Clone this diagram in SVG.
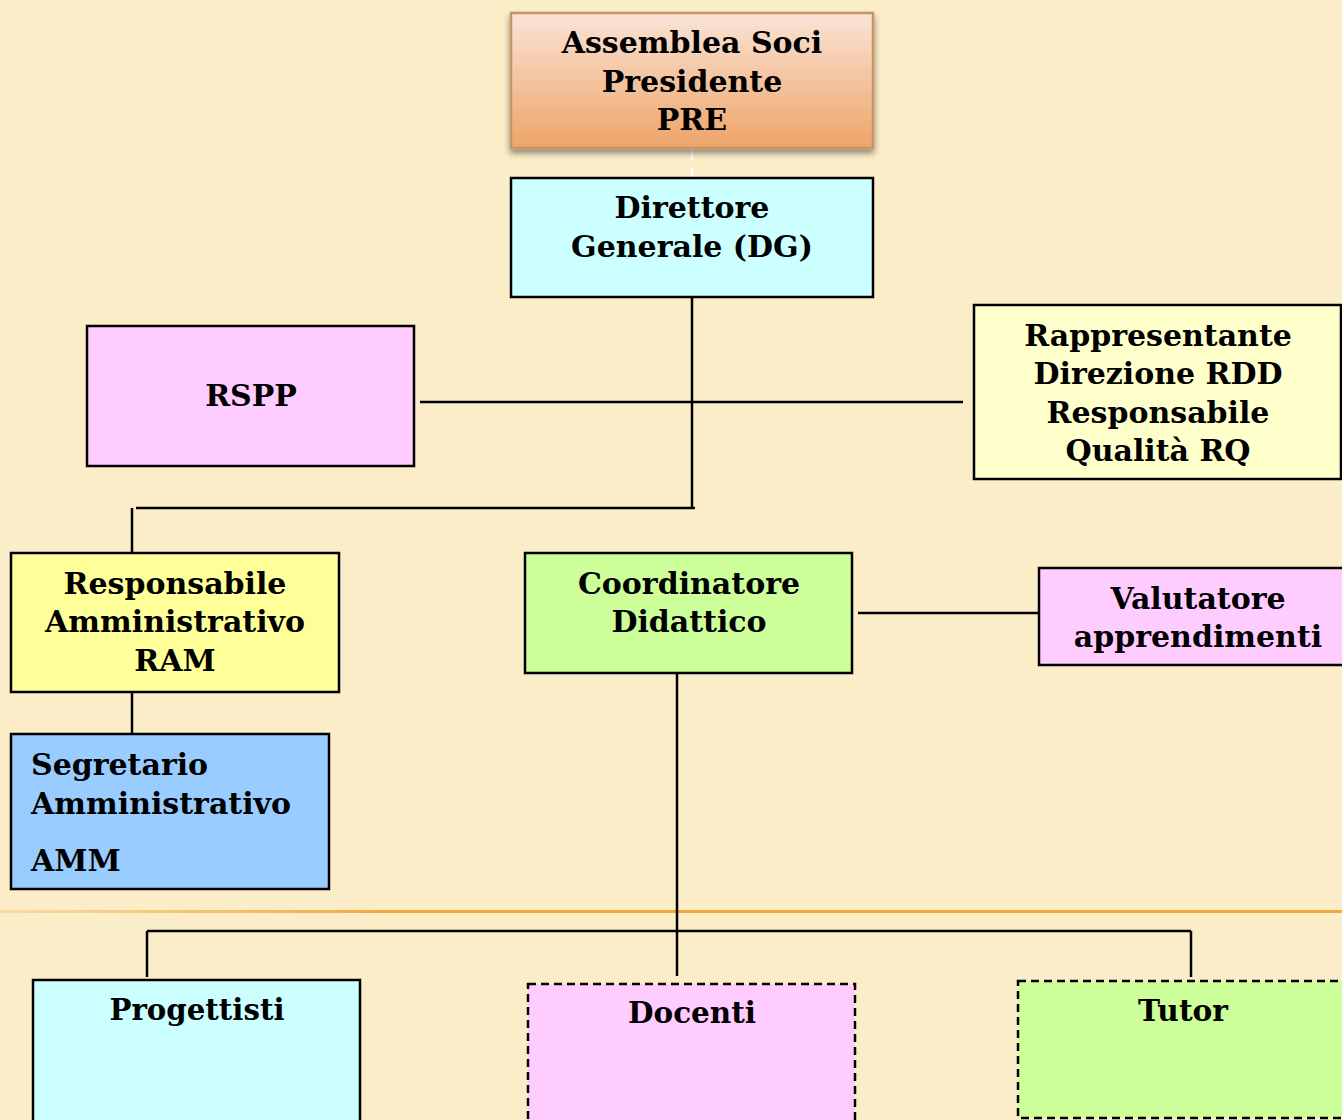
<svg xmlns="http://www.w3.org/2000/svg" width="1342" height="1120" viewBox="0 0 1342 1120">
<defs>
<linearGradient id="topg" x1="0" y1="0" x2="0" y2="1">
<stop offset="0" stop-color="#FAE4D6"/>
<stop offset="1" stop-color="#EDA468"/>
</linearGradient>
<linearGradient id="og" x1="0" y1="0" x2="1" y2="0">
<stop offset="0" stop-color="#F0B04A" stop-opacity="0.3"/>
<stop offset="0.3" stop-color="#F0A838"/>
<stop offset="1" stop-color="#F0A838"/>
</linearGradient>
<filter id="sh" x="-10%" y="-10%" width="120%" height="130%">
<feGaussianBlur in="SourceAlpha" stdDeviation="3"/>
<feOffset dx="0" dy="4" result="b"/>
<feComponentTransfer><feFuncA type="linear" slope="0.45"/></feComponentTransfer>
<feMerge><feMergeNode/><feMergeNode in="SourceGraphic"/></feMerge>
</filter>
</defs>
<style>
.t{font-family:"DejaVu Serif","Liberation Serif",serif;font-weight:bold;font-size:30px;fill:#000;text-anchor:middle}
.l{text-anchor:start}
.b{stroke:#000;stroke-width:2.5}
.d{stroke:#000;stroke-width:2.5;stroke-dasharray:8 5}
.c{stroke:#000;stroke-width:2.5;fill:none}
</style>
<rect width="1342" height="1120" fill="#FCEDC9"/>
<rect x="0" y="910" width="1342" height="3" fill="url(#og)"/>
<g id="connectors">
<line x1="692" y1="150" x2="692" y2="178" stroke="#FFFFFF" stroke-width="2.5" stroke-dasharray="10 8"/>
<path class="c" d="M692 297V508"/>
<path class="c" d="M420 402H963"/>
<path class="c" d="M136 508H695M132 508V553"/>
<path class="c" d="M132 692V734"/>
<path class="c" d="M858 613H1039"/>
<path class="c" d="M677 673V976"/>
<path class="c" d="M147 931H1191" stroke-width="3"/>
<path class="c" d="M147 931V977M1191 931V977"/>
</g>
<g id="pre">
<rect x="511" y="13" width="362" height="135" fill="url(#topg)" stroke="#C8956A" stroke-width="2.5" filter="url(#sh)"/>
<text class="t" x="692" y="53">Assemblea Soci</text>
<text class="t" x="692" y="92">Presidente</text>
<text class="t" x="692" y="130">PRE</text>
</g>
<g id="dg">
<rect x="511" y="178" width="362" height="119" fill="#CCFFFF" class="b"/>
<text class="t" x="692" y="218">Direttore</text>
<text class="t" x="692" y="257">Generale (DG)</text>
</g>
<g id="rspp">
<rect x="87" y="326" width="327" height="140" fill="#FFCCFF" class="b"/>
<text class="t" x="251" y="406">RSPP</text>
</g>
<g id="rdd">
<rect x="974" y="305" width="367" height="174" fill="#FFFFCC" class="b"/>
<text class="t" x="1158" y="346">Rappresentante</text>
<text class="t" x="1158" y="384">Direzione RDD</text>
<text class="t" x="1158" y="423">Responsabile</text>
<text class="t" x="1158" y="461">Qualità RQ</text>
</g>
<g id="ram">
<rect x="11" y="553" width="328" height="139" fill="#FFFF99" class="b"/>
<text class="t" x="175" y="594">Responsabile</text>
<text class="t" x="175" y="632">Amministrativo</text>
<text class="t" x="175" y="671">RAM</text>
</g>
<g id="coord">
<rect x="525" y="553" width="327" height="120" fill="#CCFF99" class="b"/>
<text class="t" x="689" y="594">Coordinatore</text>
<text class="t" x="689" y="632">Didattico</text>
</g>
<g id="valutatore">
<rect x="1039" y="568" width="310" height="97" fill="#FFCCFF" class="b"/>
<text class="t" x="1198" y="609">Valutatore</text>
<text class="t" x="1198" y="647">apprendimenti</text>
</g>
<g id="amm">
<rect x="11" y="734" width="318" height="155" fill="#99CCFF" class="b"/>
<text class="t l" x="31" y="775">Segretario</text>
<text class="t l" x="31" y="814">Amministrativo</text>
<text class="t l" x="31" y="871">AMM</text>
</g>
<g id="progettisti">
<rect x="33" y="980" width="327" height="150" fill="#CCFFFF" class="b"/>
<text class="t" x="197" y="1020" textLength="175" lengthAdjust="spacingAndGlyphs">Progettisti</text>
</g>
<g id="docenti">
<rect x="528" y="984" width="327" height="150" fill="#FFCCFF" class="d"/>
<text class="t" x="692" y="1023" textLength="128" lengthAdjust="spacingAndGlyphs">Docenti</text>
</g>
<g id="tutor">
<rect x="1018" y="981" width="340" height="137" fill="#CCFF99" class="d"/>
<text class="t" x="1183" y="1021" textLength="90" lengthAdjust="spacingAndGlyphs">Tutor</text>
</g>
</svg>
